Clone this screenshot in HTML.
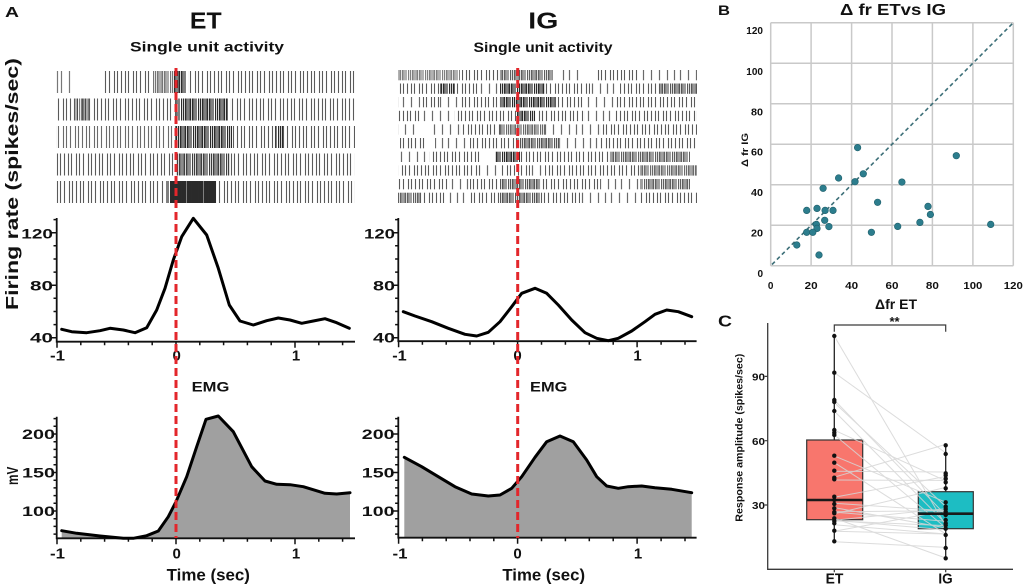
<!DOCTYPE html>
<html>
<head>
<meta charset="utf-8">
<style>
html,body{margin:0;padding:0;background:#fff;}
svg{display:block;}
text{font-family:"Liberation Sans",Arial,sans-serif;font-weight:bold;fill:#111;}
</style>
</head>
<body>
<svg width="1024" height="587" viewBox="0 0 1024 587" xmlns="http://www.w3.org/2000/svg">
<rect width="1024" height="587" fill="#fff"/>
<defs>
<pattern id="sp" width="37" height="40" patternUnits="userSpaceOnUse"><path d="M1.5 0v40M8.5 0v40M14.5 0v40M22.5 0v40M30.5 0v40" stroke="#6a6a6a" stroke-width="1.2"/></pattern>
<pattern id="md" width="31" height="40" patternUnits="userSpaceOnUse"><path d="M1.5 0v40M4.5 0v40M9.5 0v40M12.5 0v40M16.5 0v40M21.5 0v40M24.5 0v40M28.5 0v40" stroke="#5a5a5a" stroke-width="1.1"/></pattern>
<pattern id="dn" width="17" height="40" patternUnits="userSpaceOnUse"><path d="M0.5 0v40M2.5 0v40M4.5 0v40M6 0v40M8 0v40M9.5 0v40M11.5 0v40M13 0v40M15 0v40" stroke="#2a2a2a" stroke-width="1.2"/></pattern>
</defs>

<!-- ===== Panel A labels ===== -->
<text x="5" y="17" font-size="15" textLength="14" lengthAdjust="spacingAndGlyphs">A</text>
<text x="205.8" y="28.3" font-size="23.5" text-anchor="middle" textLength="31.7" lengthAdjust="spacingAndGlyphs">ET</text>
<text x="207" y="51.7" font-size="14" text-anchor="middle" textLength="154" lengthAdjust="spacingAndGlyphs">Single unit activity</text>
<text x="543.3" y="28.3" font-size="23.5" text-anchor="middle" textLength="30" lengthAdjust="spacingAndGlyphs">IG</text>
<text x="543" y="52" font-size="14" text-anchor="middle" textLength="139" lengthAdjust="spacingAndGlyphs">Single unit activity</text>

<!-- ===== ET raster ===== -->
<g>
<path d="M57.5 71v22M61.5 71v22M69.5 71v22" stroke="#777" stroke-width="1.2"/>
<rect x="104" y="71" width="46" height="22" fill="url(#md)"/>
<rect x="152" y="71" width="22" height="22" fill="url(#dn)" opacity=".65"/>
<rect x="174" y="71" width="12" height="22" fill="url(#dn)"/>
<rect x="188" y="71" width="167" height="22" fill="url(#md)"/>
</g>
<g transform="translate(11 0)">
<rect x="45" y="98.5" width="120" height="22" fill="url(#md)"/>
<rect x="64" y="98.5" width="14" height="22" fill="url(#dn)" opacity=".6"/>
<rect x="165" y="98.5" width="52" height="22" fill="url(#dn)"/>
<rect x="219" y="98.5" width="125" height="22" fill="url(#md)"/>
</g>
<g transform="translate(23 0)">
<rect x="33" y="126" width="120" height="22" fill="url(#md)" opacity=".9"/>
<rect x="153" y="126" width="56" height="22" fill="url(#dn)"/>
<rect x="209" y="126" width="123" height="22" fill="url(#md)"/>
<rect x="252" y="126" width="8" height="22" fill="url(#dn)"/>
</g>
<g transform="translate(5 0)">
<rect x="51" y="153.5" width="120" height="22" fill="url(#md)"/>
<rect x="171" y="153.5" width="54" height="22" fill="url(#dn)" opacity=".9"/>
<rect x="225" y="153.5" width="125" height="22" fill="url(#md)"/>
</g>
<g transform="translate(17 0)">
<rect x="39" y="181" width="108" height="22" fill="url(#md)"/>
<rect x="149" y="181" width="50" height="22" fill="url(#dn)"/>
<rect x="153" y="181" width="44" height="22" fill="url(#dn)" transform="translate(1 0)"/>
<rect x="199" y="181" width="139" height="22" fill="url(#md)"/>
</g>

<!-- ===== IG raster ===== -->
<g>
<rect x="398" y="70" width="62" height="10.3" fill="url(#dn)" opacity=".6"/>
<rect x="462" y="70" width="38" height="10.3" fill="url(#md)"/>
<rect x="500" y="70" width="53" height="10.3" fill="url(#dn)" opacity=".75"/>
<rect x="562" y="70" width="18" height="10.3" fill="url(#sp)"/>
<rect x="595" y="70" width="45" height="10.3" fill="url(#md)"/>
<rect x="640" y="70" width="57" height="10.3" fill="url(#sp)"/>
</g>
<g transform="translate(7 0)">
<rect x="391" y="83.5" width="42" height="10.3" fill="url(#md)"/>
<rect x="433" y="83.5" width="15" height="10.3" fill="url(#dn)"/>
<rect x="448" y="83.5" width="25" height="10.3" fill="url(#md)"/>
<rect x="473" y="83.5" width="20" height="10.3" fill="url(#sp)"/>
<rect x="493" y="83.5" width="45" height="10.3" fill="url(#dn)"/>
<rect x="538" y="83.5" width="45" height="10.3" fill="url(#md)"/>
<rect x="583" y="83.5" width="30" height="10.3" fill="url(#sp)"/>
<rect x="613" y="83.5" width="40" height="10.3" fill="url(#md)"/>
<rect x="653" y="83.5" width="37" height="10.3" fill="url(#dn)" opacity=".8"/>
</g>
<g transform="translate(19 0)">
<rect x="379" y="97" width="22" height="10.3" fill="url(#sp)"/>
<rect x="401" y="97" width="20" height="10.3" fill="url(#md)"/>
<rect x="421" y="97" width="20" height="10.3" fill="url(#sp)"/>
<rect x="441" y="97" width="40" height="10.3" fill="url(#md)"/>
<rect x="481" y="97" width="55" height="10.3" fill="url(#dn)"/>
<rect x="536" y="97" width="30" height="10.3" fill="url(#md)"/>
<rect x="566" y="97" width="30" height="10.3" fill="url(#sp)"/>
<rect x="596" y="97" width="82" height="10.3" fill="url(#md)"/>
</g>
<g transform="translate(3 0)">
<rect x="395" y="110.8" width="22" height="10.3" fill="url(#md)"/>
<rect x="417" y="110.8" width="35" height="10.3" fill="url(#sp)"/>
<rect x="452" y="110.8" width="62" height="10.3" fill="url(#md)"/>
<rect x="514" y="110.8" width="18" height="10.3" fill="url(#dn)"/>
<rect x="532" y="110.8" width="50" height="10.3" fill="url(#md)"/>
<rect x="582" y="110.8" width="30" height="10.3" fill="url(#sp)"/>
<rect x="612" y="110.8" width="82" height="10.3" fill="url(#md)"/>
</g>
<g transform="translate(13 0)">
<rect x="385" y="124.4" width="22" height="10.3" fill="url(#sp)"/>
<rect x="417" y="124.4" width="30" height="10.3" fill="url(#sp)"/>
<rect x="447" y="124.4" width="40" height="10.3" fill="url(#md)"/>
<rect x="487" y="124.4" width="45" height="10.3" fill="url(#dn)" opacity=".7"/>
<rect x="532" y="124.4" width="55" height="10.3" fill="url(#sp)"/>
<rect x="587" y="124.4" width="97" height="10.3" fill="url(#md)"/>
</g>
<g transform="translate(27 0)">
<rect x="373" y="138" width="25" height="10.3" fill="url(#md)"/>
<rect x="408" y="138" width="35" height="10.3" fill="url(#sp)"/>
<rect x="443" y="138" width="47" height="10.3" fill="url(#md)"/>
<rect x="490" y="138" width="43" height="10.3" fill="url(#dn)" opacity=".8"/>
<rect x="533" y="138" width="40" height="10.3" fill="url(#sp)"/>
<rect x="573" y="138" width="97" height="10.3" fill="url(#md)"/>
</g>
<g transform="translate(9 0)">
<rect x="391" y="151.7" width="30" height="10.3" fill="url(#sp)"/>
<rect x="421" y="151.7" width="50" height="10.3" fill="url(#md)"/>
<rect x="486" y="151.7" width="25" height="10.3" fill="url(#dn)"/>
<rect x="511" y="151.7" width="90" height="10.3" fill="url(#md)"/>
<rect x="601" y="151.7" width="80" height="10.3" fill="url(#dn)" opacity=".75"/>
</g>
<g transform="translate(21 0)">
<rect x="377" y="165.3" width="82" height="10.3" fill="url(#md)"/>
<rect x="459" y="165.3" width="20" height="10.3" fill="url(#sp)"/>
<rect x="479" y="165.3" width="30" height="10.3" fill="url(#md)"/>
<rect x="509" y="165.3" width="15" height="10.3" fill="url(#sp)"/>
<rect x="524" y="165.3" width="95" height="10.3" fill="url(#md)"/>
<rect x="619" y="165.3" width="57" height="10.3" fill="url(#dn)" opacity=".7"/>
</g>
<g transform="translate(15 0)">
<rect x="383" y="179" width="52" height="10.3" fill="url(#md)"/>
<rect x="435" y="179" width="20" height="10.3" fill="url(#sp)"/>
<rect x="455" y="179" width="30" height="10.3" fill="url(#md)"/>
<rect x="485" y="179" width="40" height="10.3" fill="url(#dn)" opacity=".8"/>
<rect x="525" y="179" width="60" height="10.3" fill="url(#md)"/>
<rect x="585" y="179" width="40" height="10.3" fill="url(#sp)"/>
<rect x="625" y="179" width="50" height="10.3" fill="url(#dn)" opacity=".75"/>
</g>
<g transform="translate(5 0)">
<rect x="393" y="192.7" width="22" height="10.3" fill="url(#dn)" opacity=".75"/>
<rect x="415" y="192.7" width="25" height="10.3" fill="url(#md)"/>
<rect x="440" y="192.7" width="25" height="10.3" fill="url(#sp)"/>
<rect x="465" y="192.7" width="30" height="10.3" fill="url(#md)"/>
<rect x="495" y="192.7" width="40" height="10.3" fill="url(#dn)" opacity=".8"/>
<rect x="535" y="192.7" width="40" height="10.3" fill="url(#md)"/>
<rect x="575" y="192.7" width="60" height="10.3" fill="url(#sp)"/>
<rect x="635" y="192.7" width="57" height="10.3" fill="url(#md)"/>
</g>

<!-- ===== Firing rate y label ===== -->
<text transform="translate(18 184) rotate(-90)" font-size="17.5" text-anchor="middle" textLength="252" lengthAdjust="spacingAndGlyphs">Firing rate (spikes/sec)</text>
<text transform="translate(18.2 475.8) rotate(-90)" font-size="16" text-anchor="middle" textLength="18.3" lengthAdjust="spacingAndGlyphs">mV</text>

<!-- ===== EMG fills ===== -->
<polygon points="61.7,530.7 76.7,533.3 100,536 123.3,538.3 133.3,538.3 146.7,535.7 158.3,531 168.3,516.7 176,501.7 186.7,476.7 196.7,446.7 206,419.3 218.3,416 233.3,431.7 251.7,466.7 265,481 276.7,484.3 290,484.7 303.3,486.7 325,493.3 336.7,494 350,492.7 350,538.3 61.7,538.3" fill="#a0a0a0"/>
<polygon points="404.3,457.3 421.7,466.7 438.3,476.7 455,486.7 471.7,494 488.3,496 500,495 511.7,488.3 521.7,476.7 535,457.3 546.7,441.7 560,436 573.3,441.7 586.7,460 596.7,476.7 606.7,486 618.3,488.3 628.3,486.7 641.7,486 655,487.7 671.7,489.3 691.7,492.7 691.7,537.7 404.3,537.7" fill="#a0a0a0"/>

<!-- ===== Axes (ET FR + ET EMG), replicated for IG ===== -->
<g id="axesET">
<g stroke="#111" fill="none">
<path d="M56.7 218V341.7H355" stroke-width="1.8"/>
<path stroke-width="1.5" d="M51.5 337.7H56.7M51.5 285.2H56.7M51.5 232.7H56.7M53.5 324.6H56.7M53.5 311.5H56.7M53.5 298.3H56.7M53.5 272.1H56.7M53.5 259H56.7M53.5 245.8H56.7M53.5 219.6H56.7"/>
<path stroke-width="1.5" d="M57 341.7v6M176 341.7v6M295 341.7v6M80.8 341.7v3.5M104.6 341.7v3.5M128.4 341.7v3.5M152.2 341.7v3.5M199.8 341.7v3.5M223.6 341.7v3.5M247.4 341.7v3.5M271.2 341.7v3.5M318.8 341.7v3.5M342.6 341.7v3.5"/>
<path d="M56.7 416.7V538.3H355" stroke-width="1.8"/>
<path stroke-width="1.5" d="M51.5 511H56.7M51.5 472.5H56.7M51.5 434H56.7M53.5 534.1H56.7M53.5 526.4H56.7M53.5 518.7H56.7M53.5 503.3H56.7M53.5 495.6H56.7M53.5 487.9H56.7M53.5 480.2H56.7M53.5 464.8H56.7M53.5 457.1H56.7M53.5 449.4H56.7M53.5 441.7H56.7M53.5 426.3H56.7M53.5 418.6H56.7"/>
<path stroke-width="1.5" d="M57 538.3v6M176 538.3v6M295 538.3v6M80.8 538.3v3.5M104.6 538.3v3.5M128.4 538.3v3.5M152.2 538.3v3.5M199.8 538.3v3.5M223.6 538.3v3.5M247.4 538.3v3.5M271.2 538.3v3.5M318.8 538.3v3.5M342.6 538.3v3.5"/>
</g>
</g>
<g transform="translate(341.6 0)">
<g stroke="#111" fill="none">
<path d="M56.7 218V341.2H355" stroke-width="1.8"/>
<path stroke-width="1.5" d="M51.5 337.7H56.7M51.5 285.2H56.7M51.5 232.7H56.7M53.5 324.6H56.7M53.5 311.5H56.7M53.5 298.3H56.7M53.5 272.1H56.7M53.5 259H56.7M53.5 245.8H56.7M53.5 219.6H56.7"/>
<path stroke-width="1.5" d="M57 341.2v6M176 341.2v6M295.5 341.2v6M80.8 341.2v3.5M104.6 341.2v3.5M128.4 341.2v3.5M152.2 341.2v3.5M199.9 341.2v3.5M223.8 341.2v3.5M247.7 341.2v3.5M271.6 341.2v3.5M319.5 341.2v3.5M343.4 341.2v3.5"/>
<path d="M56.7 416.7V537.7H355" stroke-width="1.8"/>
<path stroke-width="1.5" d="M51.5 511H56.7M51.5 472.5H56.7M51.5 434H56.7M53.5 534.1H56.7M53.5 526.4H56.7M53.5 518.7H56.7M53.5 503.3H56.7M53.5 495.6H56.7M53.5 487.9H56.7M53.5 480.2H56.7M53.5 464.8H56.7M53.5 457.1H56.7M53.5 449.4H56.7M53.5 441.7H56.7M53.5 426.3H56.7M53.5 418.6H56.7"/>
<path stroke-width="1.5" d="M57 537.7v6M176 537.7v6M295.5 537.7v6M80.8 537.7v3.5M104.6 537.7v3.5M128.4 537.7v3.5M152.2 537.7v3.5M199.9 537.7v3.5M223.8 537.7v3.5M247.7 537.7v3.5M271.6 537.7v3.5M319.5 537.7v3.5M343.4 537.7v3.5"/>
</g>
</g>

<!-- tick labels ET -->
<g font-size="14">
<text x="53" y="238.3" text-anchor="end" textLength="31.7" lengthAdjust="spacingAndGlyphs">120</text>
<text x="53" y="290.3" text-anchor="end" textLength="23" lengthAdjust="spacingAndGlyphs">80</text>
<text x="53" y="342.7" text-anchor="end" textLength="23" lengthAdjust="spacingAndGlyphs">40</text>
<text x="55" y="439" text-anchor="end" textLength="33" lengthAdjust="spacingAndGlyphs">200</text>
<text x="55" y="477.3" text-anchor="end" textLength="33" lengthAdjust="spacingAndGlyphs">150</text>
<text x="55" y="516" text-anchor="end" textLength="33" lengthAdjust="spacingAndGlyphs">100</text>
<!-- IG -->
<text x="395" y="238.3" text-anchor="end" textLength="31" lengthAdjust="spacingAndGlyphs">120</text>
<text x="395" y="290.3" text-anchor="end" textLength="22" lengthAdjust="spacingAndGlyphs">80</text>
<text x="395" y="342.7" text-anchor="end" textLength="22" lengthAdjust="spacingAndGlyphs">40</text>
<text x="394.5" y="439" text-anchor="end" textLength="32.7" lengthAdjust="spacingAndGlyphs">200</text>
<text x="394.5" y="477.3" text-anchor="end" textLength="32.7" lengthAdjust="spacingAndGlyphs">150</text>
<text x="394.5" y="516" text-anchor="end" textLength="32.7" lengthAdjust="spacingAndGlyphs">100</text>
</g>
<g font-size="15" text-anchor="middle">
<text x="57.5" y="360.7" textLength="15" lengthAdjust="spacingAndGlyphs">-1</text>
<text x="176.7" y="360.7">0</text>
<text x="296" y="360.7">1</text>
<text x="57.5" y="558.3" textLength="15" lengthAdjust="spacingAndGlyphs">-1</text>
<text x="176.7" y="558.3">0</text>
<text x="296" y="558.3">1</text>
<text x="399.5" y="360.7" textLength="14.5" lengthAdjust="spacingAndGlyphs">-1</text>
<text x="517.5" y="360.7">0</text>
<text x="637.5" y="360.7">1</text>
<text x="400" y="558.3" textLength="15" lengthAdjust="spacingAndGlyphs">-1</text>
<text x="517.5" y="558.3">0</text>
<text x="638" y="558.3">1</text>
</g>
<text x="208.3" y="580.7" font-size="16.5" text-anchor="middle" textLength="83.3" lengthAdjust="spacingAndGlyphs">Time (sec)</text>
<text x="543.7" y="580.7" font-size="16.5" text-anchor="middle" textLength="82.7" lengthAdjust="spacingAndGlyphs">Time (sec)</text>
<text x="210.5" y="391.7" font-size="14" text-anchor="middle" textLength="37.7" lengthAdjust="spacingAndGlyphs">EMG</text>
<text x="548.7" y="391.7" font-size="14" text-anchor="middle" textLength="37.3" lengthAdjust="spacingAndGlyphs">EMG</text>

<!-- curves -->
<g fill="none" stroke="#000" stroke-width="3" stroke-linejoin="round" stroke-linecap="round">
<polyline points="61.7,329.3 71.7,331.7 86.7,332.7 100,330.7 110,328.3 123.3,330 135,332.7 146.7,327.7 156.7,310 165,288.3 173.3,260 181.7,236.7 193.3,218.3 206.7,235 218.3,268.3 229.3,305 240,321 253.3,325 266.7,320.7 278.3,318 290,320 301.7,323.3 313.3,321 325,318.7 336.7,322.7 349.3,328.3"/>
<polyline points="403.3,311.7 415,316 431.7,321.7 448.3,328.3 465,334.3 476.7,336 488.3,332.3 500,321.7 511.7,306.7 521.7,293.3 535,288.3 546.7,293.3 558.3,305 571.7,320 585,332.7 596.7,338.3 608.3,340.7 618.3,338.3 631.7,331 645,321.7 655,314.3 666.7,310 678.3,311.7 691.7,316.7"/>
<polyline points="61.7,530.7 76.7,533.3 100,536 123.3,538.3 133.3,538.3 146.7,535.7 158.3,531 168.3,516.7 176,501.7 186.7,476.7 196.7,446.7 206,419.3 218.3,416 233.3,431.7 251.7,466.7 265,481 276.7,484.3 290,484.7 303.3,486.7 325,493.3 336.7,494 350,492.7"/>
<polyline points="404.3,457.3 421.7,466.7 438.3,476.7 455,486.7 471.7,494 488.3,496 500,495 511.7,488.3 521.7,476.7 535,457.3 546.7,441.7 560,436 573.3,441.7 586.7,460 596.7,476.7 606.7,486 618.3,488.3 628.3,486.7 641.7,486 655,487.7 671.7,489.3 691.7,492.7"/>
</g>

<!-- red dashed lines -->
<g stroke="#e3262b" stroke-width="3" stroke-dasharray="8 4">
<line x1="176" y1="68" x2="176" y2="538"/>
<line x1="517.7" y1="68" x2="517.7" y2="538"/>
</g>

<!-- ===== Panel B ===== -->
<text x="718" y="15" font-size="14" textLength="12" lengthAdjust="spacingAndGlyphs">B</text>
<text x="893" y="15" font-size="16" text-anchor="middle" textLength="106" lengthAdjust="spacingAndGlyphs">Δ fr ETvs IG</text>
<g stroke="#c9c9c9" stroke-width="1.5" fill="none">
<path d="M770.7 22.7V265.7M811.1 22.7V265.7M851.6 22.7V265.7M892 22.7V265.7M932.4 22.7V265.7M972.9 22.7V265.7M1013.3 22.7V265.7"/>
<path d="M770.7 22.7H1013.3M770.7 63.2H1013.3M770.7 103.7H1013.3M770.7 144.2H1013.3M770.7 184.7H1013.3M770.7 225.2H1013.3M770.7 265.7H1013.3"/>
</g>
<line x1="772" y1="264.5" x2="1013.3" y2="22.7" stroke="#3d6f78" stroke-width="1.6" stroke-dasharray="4 3"/>
<g fill="#2c7d8d" stroke="#1f5f6b" stroke-width=".6">
<circle cx="857.6" cy="147.6" r="3.3"/><circle cx="956.3" cy="155.7" r="3.3"/>
<circle cx="838.6" cy="178" r="3.3"/><circle cx="863.3" cy="173.8" r="3.3"/>
<circle cx="855" cy="181.7" r="3.3"/><circle cx="901.9" cy="182.1" r="3.3"/>
<circle cx="823.1" cy="188.3" r="3.3"/><circle cx="877.6" cy="202.3" r="3.3"/>
<circle cx="928" cy="206.4" r="3.3"/><circle cx="930.4" cy="214.5" r="3.3"/>
<circle cx="806.7" cy="210.4" r="3.3"/><circle cx="817" cy="208.4" r="3.3"/>
<circle cx="825.1" cy="210.4" r="3.3"/><circle cx="833" cy="210.4" r="3.3"/>
<circle cx="824.7" cy="220.3" r="3.3"/><circle cx="816.4" cy="224.4" r="3.3"/>
<circle cx="817" cy="228.4" r="3.3"/><circle cx="828.9" cy="226.6" r="3.3"/>
<circle cx="919.9" cy="222.4" r="3.3"/><circle cx="897.7" cy="226.4" r="3.3"/>
<circle cx="990.7" cy="224.4" r="3.3"/><circle cx="806.7" cy="232.3" r="3.3"/>
<circle cx="812.8" cy="232.3" r="3.3"/><circle cx="871.4" cy="232.3" r="3.3"/>
<circle cx="796.8" cy="245" r="3.3"/><circle cx="819" cy="255" r="3.3"/>
</g>
<g font-size="10" text-anchor="end" fill="#222">
<text x="763" y="34.2" textLength="16.7" lengthAdjust="spacingAndGlyphs">120</text>
<text x="763" y="74.8" textLength="16.7" lengthAdjust="spacingAndGlyphs">100</text>
<text x="763" y="115.5" textLength="12" lengthAdjust="spacingAndGlyphs">80</text>
<text x="763" y="155.5" textLength="12" lengthAdjust="spacingAndGlyphs">60</text>
<text x="763" y="195.8" textLength="12" lengthAdjust="spacingAndGlyphs">40</text>
<text x="763" y="236.5" textLength="12" lengthAdjust="spacingAndGlyphs">20</text>
<text x="763" y="277.2">0</text>
</g>
<g font-size="10" text-anchor="middle">
<text x="770.7" y="289">0</text>
<text x="811.1" y="289" textLength="13" lengthAdjust="spacingAndGlyphs">20</text>
<text x="851.6" y="289" textLength="13" lengthAdjust="spacingAndGlyphs">40</text>
<text x="892" y="289" textLength="13" lengthAdjust="spacingAndGlyphs">60</text>
<text x="932.4" y="289" textLength="13" lengthAdjust="spacingAndGlyphs">80</text>
<text x="972.9" y="289" textLength="19" lengthAdjust="spacingAndGlyphs">100</text>
<text x="1013.3" y="289" textLength="19" lengthAdjust="spacingAndGlyphs">120</text>
</g>
<text transform="translate(748.2 150) rotate(-90)" font-size="9" text-anchor="middle" textLength="34" lengthAdjust="spacingAndGlyphs">Δ fr IG</text>
<text x="896" y="309" font-size="14" text-anchor="middle" textLength="42" lengthAdjust="spacingAndGlyphs">Δfr ET</text>

<!-- ===== Panel C ===== -->
<text x="718" y="326.7" font-size="16" textLength="14" lengthAdjust="spacingAndGlyphs">C</text>
<g stroke="#3a3a3a" fill="none">
<path d="M767.7 323V569.3H1013" stroke-width="1.3"/>
<path d="M764.7 376.4H767.7M764.7 440.7H767.7M764.7 505H767.7M834.3 569.3v3M945.7 569.3v3" stroke-width="1.2"/>
<path d="M834.3 331.7V325H945.7V331.7" stroke-width="1.2"/>
</g>
<text x="894.5" y="326" font-size="13" text-anchor="middle">**</text>
<g font-size="10" text-anchor="end">
<text x="765" y="380.5" textLength="13" lengthAdjust="spacingAndGlyphs">90</text>
<text x="765" y="444.8" textLength="13" lengthAdjust="spacingAndGlyphs">60</text>
<text x="765" y="509.1" textLength="13" lengthAdjust="spacingAndGlyphs">30</text>
</g>
<text transform="translate(742.5 437.7) rotate(-90)" font-size="10.5" text-anchor="middle" textLength="168" lengthAdjust="spacingAndGlyphs">Response amplitude (spikes/sec)</text>
<text x="834.5" y="583.3" font-size="15" text-anchor="middle" textLength="17.7" lengthAdjust="spacingAndGlyphs">ET</text>
<text x="945.5" y="583.3" font-size="15" text-anchor="middle" textLength="14.3" lengthAdjust="spacingAndGlyphs">IG</text>

<!-- whiskers -->
<g stroke="#222" stroke-width="1.3">
<line x1="834.3" y1="336" x2="834.3" y2="440"/>
<line x1="834.3" y1="519.7" x2="834.3" y2="541.3"/>
<line x1="945.7" y1="445.3" x2="945.7" y2="491.7"/>
<line x1="945.7" y1="528.7" x2="945.7" y2="558.3"/>
</g>
<!-- boxes -->
<rect x="806.7" y="440" width="56" height="79.7" fill="#f8766d" stroke="#333" stroke-width="1.2"/>
<rect x="918.3" y="491.7" width="55" height="37" fill="#1dbdc3" stroke="#333" stroke-width="1.2"/>
<!-- paired lines -->
<g stroke="#d6d6d6" stroke-width="1" opacity=".85">
<line x1="834.3" y1="336.1" x2="945.7" y2="525.6"/>
<line x1="834.3" y1="372.6" x2="945.7" y2="452.9"/>
<line x1="834.3" y1="400" x2="945.7" y2="515.1"/>
<line x1="834.3" y1="402.6" x2="945.7" y2="506.5"/>
<line x1="834.3" y1="411.1" x2="945.7" y2="523.4"/>
<line x1="834.3" y1="430.2" x2="945.7" y2="480.8"/>
<line x1="834.3" y1="434.7" x2="945.7" y2="527.7"/>
<line x1="834.3" y1="455.9" x2="945.7" y2="502.2"/>
<line x1="834.3" y1="462.6" x2="945.7" y2="533.9"/>
<line x1="834.3" y1="471.2" x2="945.7" y2="472"/>
<line x1="834.3" y1="477.2" x2="945.7" y2="444.4"/>
<line x1="834.3" y1="480" x2="945.7" y2="480.4"/>
<line x1="834.3" y1="497.3" x2="945.7" y2="476.5"/>
<line x1="834.3" y1="503.3" x2="945.7" y2="510.8"/>
<line x1="834.3" y1="507.6" x2="945.7" y2="527.9"/>
<line x1="834.3" y1="511.7" x2="945.7" y2="510.8"/>
<line x1="834.3" y1="512.1" x2="945.7" y2="521.3"/>
<line x1="834.3" y1="513.8" x2="945.7" y2="487.4"/>
<line x1="834.3" y1="518.1" x2="945.7" y2="558"/>
<line x1="834.3" y1="520.2" x2="945.7" y2="508.7"/>
<line x1="834.3" y1="520.2" x2="945.7" y2="529.9"/>
<line x1="834.3" y1="520.9" x2="945.7" y2="525.6"/>
<line x1="834.3" y1="524.7" x2="945.7" y2="534"/>
<line x1="834.3" y1="531.2" x2="945.7" y2="510.8"/>
<line x1="834.3" y1="531.2" x2="945.7" y2="534"/>
<line x1="834.3" y1="541.7" x2="945.7" y2="547.4"/>
</g>
<!-- medians -->
<line x1="806.7" y1="500" x2="862.7" y2="500" stroke="#1a1a1a" stroke-width="2.6"/>
<line x1="918.3" y1="513.7" x2="973.3" y2="513.7" stroke="#1a1a1a" stroke-width="2.6"/>
<!-- dots -->
<g fill="#111">
<circle cx="834.3" cy="336" r="2.2"/><circle cx="834.3" cy="372.7" r="2.2"/>
<circle cx="834.3" cy="400" r="2.2"/><circle cx="834.3" cy="402" r="2.2"/>
<circle cx="834.3" cy="411" r="2.2"/><circle cx="834.3" cy="430" r="2.2"/>
<circle cx="834.3" cy="432.7" r="2.2"/><circle cx="834.3" cy="435" r="2.2"/>
<circle cx="834.3" cy="455.7" r="2.2"/><circle cx="834.3" cy="462.7" r="2.2"/>
<circle cx="834.3" cy="470.7" r="2.2"/><circle cx="834.3" cy="477.7" r="2.2"/>
<circle cx="834.3" cy="479.3" r="2.2"/><circle cx="834.3" cy="496.7" r="2.2"/>
<circle cx="834.3" cy="500" r="2.2"/><circle cx="834.3" cy="504" r="2.2"/>
<circle cx="834.3" cy="508.3" r="2.2"/><circle cx="834.3" cy="512" r="2.2"/>
<circle cx="834.3" cy="513.3" r="2.2"/><circle cx="834.3" cy="518.3" r="2.2"/>
<circle cx="834.3" cy="521" r="2.2"/><circle cx="834.3" cy="523.3" r="2.2"/>
<circle cx="834.3" cy="530.7" r="2.2"/><circle cx="834.3" cy="541.3" r="2.2"/>
<circle cx="945.7" cy="445.3" r="2.2"/><circle cx="945.7" cy="454" r="2.2"/>
<circle cx="945.7" cy="473.3" r="2.2"/><circle cx="945.7" cy="475.3" r="2.2"/>
<circle cx="945.7" cy="478.7" r="2.2"/><circle cx="945.7" cy="482.3" r="2.2"/>
<circle cx="945.7" cy="488.3" r="2.2"/><circle cx="945.7" cy="502.3" r="2.2"/>
<circle cx="945.7" cy="506.7" r="2.2"/><circle cx="945.7" cy="509" r="2.2"/>
<circle cx="945.7" cy="511.7" r="2.2"/><circle cx="945.7" cy="515" r="2.2"/>
<circle cx="945.7" cy="520" r="2.2"/><circle cx="945.7" cy="523.3" r="2.2"/>
<circle cx="945.7" cy="525.3" r="2.2"/><circle cx="945.7" cy="528.7" r="2.2"/>
<circle cx="945.7" cy="535" r="2.2"/><circle cx="945.7" cy="548" r="2.2"/>
<circle cx="945.7" cy="558.3" r="2.2"/>
</g>
</svg>
</body>
</html>
